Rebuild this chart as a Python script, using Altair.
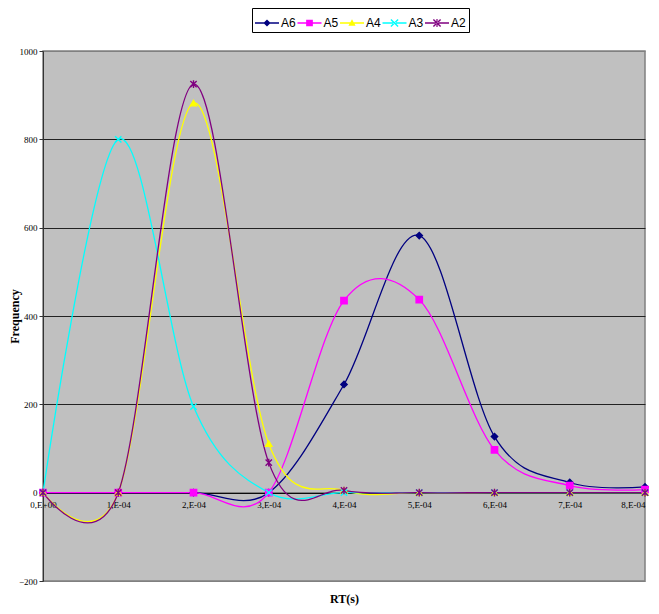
import altair as alt
import pandas as pd

rt = [0, 1e-4, 2e-4, 3e-4, 4e-4, 5e-4, 6e-4, 7e-4, 8e-4]
series_names = ["A6", "A5", "A4", "A3", "A2"]
A6 = [0, 0, 0, 0, 245, 582, 127, 23, 13]
A5 = [0, 0, 0, 0, 435, 437, 97, 16, 7]
A4 = [0, 0, 882, 111, 5, 0, 0, 0, 0]
A3 = [0, 800, 195, 0, 0, 0, 0, 0, 0]
A2 = [0, 0, 925, 68, 5, 0, 0, 0, 0]
colors = ["#000080", "#FF00FF", "#FFFF00", "#00FFFF", "#800080"]

values = {"A6": A6, "A5": A5, "A4": A4, "A3": A3, "A2": A2}
rows = []
for s in series_names:
    for x, v in zip(rt, values[s]):
        rows.append({"rt": x, "freq": v, "series": s})
df = pd.DataFrame(rows)

marker_shapes = [
    "diamond",
    "square",
    "triangle-up",
    "M-1,-1L1,1M-1,1L1,-1",
    "M-1,-1L1,1M-1,1L1,-1M0,-1.2L0,1.2",
]
bar = "M-1,-0.06L1,-0.06L1,0.06L-1,0.06Z"
legend_shapes = [
    bar + "M0,-0.3L0.3,0L0,0.3L-0.3,0Z",
    bar + "M-0.28,-0.28L0.28,-0.28L0.28,0.28L-0.28,0.28Z",
    bar + "M0,-0.32L0.3,0.22L-0.3,0.22Z",
    bar + "M-0.258,-0.342L0.342,0.258L0.258,0.342L-0.342,-0.258Z"
          "M-0.258,0.342L0.342,-0.258L0.258,-0.342L-0.342,0.258Z",
    bar + "M-0.258,-0.342L0.342,0.258L0.258,0.342L-0.342,-0.258Z"
          "M-0.258,0.342L0.342,-0.258L0.258,-0.342L-0.342,0.258Z"
          "M-0.05,-0.34L0.05,-0.34L0.05,0.34L-0.05,0.34Z",
]

H = 530
W = 602
zero_offset = -(H - H * 1000 / 1200)

x_enc = alt.X(
    "rt:Q",
    scale=alt.Scale(domain=[0, 8e-4], nice=False, zero=False),
    axis=alt.Axis(
        values=rt,
        labelExpr="datum.value == 0 ? '0,E+00' : round(datum.value*1e4) + ',E-04'",
        labelAlign={"condition": {"test": "datum.value > 7.5e-4", "value": "right"}, "value": "center"},
        offset=zero_offset,
        ticks=False,
        domainColor="black",
        domainWidth=1,
        labelFont="Liberation Serif",
        labelFontSize=9,
        labelColor="black",
        labelPadding=8,
        title="RT(s)",
        titleFont="Liberation Serif",
        titleFontSize=12,
        titleFontWeight="bold",
        titleColor="black",
        titleY=106,
        titleBaseline="middle",
        grid=False,
        labelFlush=False,
        labelOverlap=False,
    ),
)
y_enc = alt.Y(
    "freq:Q",
    scale=alt.Scale(domain=[-200, 1000], nice=False),
    axis=alt.Axis(
        values=[-200, 0, 200, 400, 600, 800, 1000],
        format="d",
        tickSize=4,
        tickColor="#333333",
        domainColor="#333333",
        labelFont="Liberation Serif",
        labelFontSize=9,
        labelColor="black",
        labelPadding=2,
        title="Frequency",
        titleFont="Liberation Serif",
        titleFontSize=12,
        titleFontWeight="bold",
        titleColor="black",
        titleX=-29,
        titleY=H / 2,
        titleAngle=-90,
        titleBaseline="middle",
        titleAlign="center",
        grid=True,
        gridColor={
            "condition": {"test": "datum.value == 1000 || datum.value == -200", "value": "#808080"},
            "value": "#222222",
        },
        gridWidth=1,
    ),
)

color_scale = alt.Scale(domain=series_names, range=colors)

lines = alt.Chart(df).mark_line(interpolate="cardinal", strokeWidth=1.3).encode(
    x=x_enc,
    y=y_enc,
    color=alt.Color("series:N", scale=color_scale, legend=None),
    detail="series:N",
)

points = alt.Chart(df).mark_point(filled=True, size=40, strokeWidth=1.4, opacity=1).encode(
    x="rt:Q",
    y="freq:Q",
    color=alt.Color("series:N", scale=color_scale, legend=None),
    stroke=alt.Stroke("series:N", scale=color_scale, legend=None),
    shape=alt.Shape("series:N", scale=alt.Scale(domain=series_names, range=marker_shapes), legend=None),
)

legend_layer = alt.Chart(df).mark_point(filled=True, opacity=1).encode(
    x="rt:Q",
    y="freq:Q",
    color=alt.Color("series:N", scale=color_scale, legend=alt.Legend(title=None)),
    shape=alt.Shape("series:N", scale=alt.Scale(domain=series_names, range=legend_shapes), legend=alt.Legend(title=None)),
).transform_filter("false")

chart = alt.layer(lines, points, legend_layer).resolve_scale(
    color="independent", shape="independent", stroke="independent"
).properties(
    width=W,
    height=H,
    autosize=alt.AutoSizeParams(type="none"),
    padding={"left": 35, "top": 43, "right": 6, "bottom": 25},
    background="white",
).configure_view(
    fill="#C0C0C0",
    stroke="#808080",
    strokeWidth=1.5,
).configure_legend(
    orient="none",
    legendX=209,
    legendY=-43,
    direction="horizontal",
    columns=5,
    strokeColor="black",
    fillColor="white",
    padding=3,
    symbolSize=576,
    symbolStrokeWidth=0,
    labelFont="Liberation Sans",
    labelFontSize=12,
    labelColor="black",
    labelOffset=2,
    columnPadding=1.5,
    cornerRadius=0,
)

chart.save("out.html", embed_options={"renderer": "svg", "actions": False})
